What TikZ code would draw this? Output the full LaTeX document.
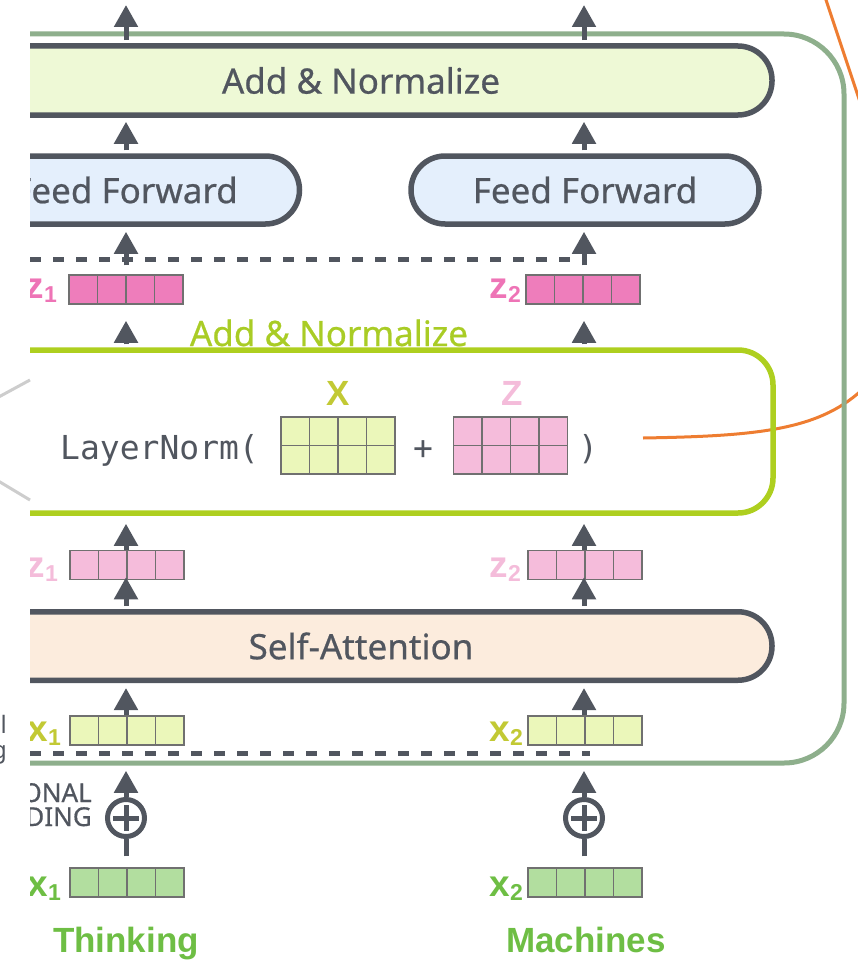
\documentclass[tikz,border=0pt]{standalone}
\usepackage{fontspec}
\setmainfont{Noto Sans}
\newfontfamily\boxfont{Noto Sans}[FakeBold=0.6]
\newfontfamily\labfont{Liberation Sans}
\newfontfamily\codefont{DejaVu Sans Mono}
\usetikzlibrary{arrows.meta}

\definecolor{dg}{HTML}{51565F}
\definecolor{encgreen}{HTML}{8EAF8C}
\definecolor{lime}{HTML}{AECF1F}
\definecolor{limetext}{HTML}{A9CC25}
\definecolor{addfill}{HTML}{EEF9D6}
\definecolor{fffill}{HTML}{E4EFFC}
\definecolor{safill}{HTML}{FCECDD}
\definecolor{pinkdark}{HTML}{EE7DBB}
\definecolor{pinklight}{HTML}{F5BCDB}
\definecolor{xlite}{HTML}{EBF7BA}
\definecolor{xgreen}{HTML}{B2DE9F}
\definecolor{olive}{HTML}{C2C934}
\definecolor{labgreen}{HTML}{6EBE44}
\definecolor{pinklabD}{HTML}{EE74B6}
\definecolor{pinklabL}{HTML}{F4BCDA}
\definecolor{callout}{HTML}{EE7D31}
\definecolor{cellgray}{HTML}{707070}
\definecolor{faint}{HTML}{CDCDCD}

% letter with a lowered index, as in x_1
\newcommand\veclab[2]{{\fontsize{37}{37}\selectfont #1}{\fontsize{23}{23}\selectfont\raisebox{-4pt}{#2}}}

\tikzset{
  block/.style={draw=dg, line width=5.5pt, rounded corners=34pt, inner sep=0pt,
    text=dg, font=\boxfont\fontsize{35}{42}\selectfont},
  arr/.style={draw=dg, line width=5pt, -{Triangle[width=23pt,length=22pt]}},
  link/.style={draw=dg, line width=5pt},
  cellbox/.style={draw=cellgray, line width=1.5pt, minimum width=114pt, inner sep=0pt},
  vec/.style={cellbox, minimum height=29pt,
    path picture={\foreach \k in {1,2,3}{\draw[cellgray,line width=1.5pt]
      ([xshift=\k*28.5pt]path picture bounding box.south west) --
      ([xshift=\k*28.5pt]path picture bounding box.north west);}}},
  mat/.style={cellbox, minimum height=57pt,
    path picture={\foreach \k in {1,2,3}{\draw[cellgray,line width=1.5pt]
      ([xshift=\k*28.5pt]path picture bounding box.south west) --
      ([xshift=\k*28.5pt]path picture bounding box.north west);}
      \draw[cellgray,line width=1.5pt]
      (path picture bounding box.west) -- (path picture bounding box.east);}},
  veclabel/.style={anchor=base east, inner sep=0pt, font=\labfont\bfseries},
  word/.style={anchor=base, inner sep=0pt, text=labgreen,
    font=\labfont\bfseries\fontsize{35}{40}\selectfont},
  dashsep/.style={draw=dg, line width=5pt, dash pattern=on 11pt off 12pt},
  plus/.style={circle, draw=dg, line width=5pt, minimum size=37pt, inner sep=0pt},
  frag/.style={inner sep=0pt, text=dg},
}

\begin{document}
\begin{tikzpicture}[x=1pt,y=-1pt]
\useasboundingbox (0,0) rectangle (858,966);

% neighbouring panel, left edge
\draw[faint, line width=3pt] (-5,399) -- (30,380);
\draw[faint, line width=3pt] (-5,479) -- (30,500);
\node[frag, anchor=base east, font=\fontsize{24}{24}\selectfont] (fragA) at (7,733) {al};
\node[frag, anchor=base east, font=\fontsize{24}{24}\selectfont] (fragB) at (7,758) {g};

% callout curve
\draw[callout, line width=3pt] (824,-6) -- (862,108);
\coordinate (calloutStart) at (643,438);
\coordinate (calloutEnd) at (866,386);
\draw[callout, line width=3pt] (calloutStart) .. controls (760,436) and (822,430) .. (calloutEnd);

\begin{scope}
\clip (30,-10) rectangle (870,980);

% encoder frame
\draw[encgreen, line width=5pt, rounded corners=60pt] (-80,34) rectangle (844,763);

% column axes
\coordinate (c1) at (126,0);
\coordinate (c2) at (584,0);

% blocks
\node[block, fill=addfill, minimum width=822pt, minimum height=69pt] (addtop) at (361,80.5) {Add \& Normalize};
\node[block, fill=fffill, minimum width=348pt, minimum height=68pt] (ffl) at (125.5,190) {Feed Forward};
\node[block, fill=fffill, minimum width=348pt, minimum height=68pt] (ffr) at (585,190) {Feed Forward};
\node[block, fill=safill, minimum width=822pt, minimum height=68.5pt] (sa) at (361,646) {Self-Attention};

% layer norm frame
\node[draw=lime, line width=5.5pt, rounded corners=35pt, minimum width=833pt,
      minimum height=163pt, inner sep=0pt] (lnbox) at (356.5,431.5) {};
\node[anchor=base, inner sep=0pt, text=limetext, font=\boxfont\fontsize{35}{42}\selectfont]
      (lntitle) at (329,346) {Add \& Normalize};

% LayerNorm( X + Z )
\node[anchor=base west, inner sep=0pt, text=dg, font=\codefont\fontsize{33}{33}\selectfont]
      (lnword) at (60,459) {LayerNorm(};
\node[mat, fill=xlite] (Xm) at (338,445.5) {};
\node[anchor=base, inner sep=0pt, text=dg, font=\codefont\fontsize{33}{33}\selectfont]
      (plusop) at (423,459) {+};
\node[mat, fill=pinklight] (Zm) at (510.5,445.5) {};
\node[anchor=base, inner sep=0pt, text=dg, font=\codefont\fontsize{33}{33}\selectfont]
      (rparen) at (588,459) {)};
\node[anchor=base, inner sep=0pt, text=olive, font=\labfont\bfseries\fontsize{35}{35}\selectfont]
      (Xlab) at (338,405) {X};
\node[anchor=base, inner sep=0pt, text=pinklabL, font=\labfont\bfseries\fontsize{35}{35}\selectfont]
      (Zlab) at (512,405) {Z};

% vectors
\node[vec, fill=pinkdark] (z1d) at (126,289.5) {};
\node[vec, fill=pinkdark] (z2d) at (583,289.5) {};
\node[vec, fill=pinklight] (z1l) at (127,565) {};
\node[vec, fill=pinklight] (z2l) at (585,565) {};
\node[vec, fill=xlite] (x1l) at (127,730.5) {};
\node[vec, fill=xlite] (x2l) at (585,730.5) {};
\node[vec, fill=xgreen] (x1g) at (127,882.5) {};
\node[vec, fill=xgreen] (x2g) at (585,882.5) {};

% vector labels
\node[veclabel, text=pinklabD] (z1dl) at (57,298) {\veclab{z}{1}};
\node[veclabel, text=pinklabD] (z2dl) at (521,298) {\veclab{z}{2}};
\node[veclabel, text=pinklabL] (z1ll) at (58,577) {\veclab{z}{1}};
\node[veclabel, text=pinklabL] (z2ll) at (521,577) {\veclab{z}{2}};
\node[veclabel, text=olive] (x1ll) at (61,741) {\veclab{x}{1}};
\node[veclabel, text=olive] (x2ll) at (523,741) {\veclab{x}{2}};
\node[veclabel, text=labgreen] (x1gl) at (61,896) {\veclab{x}{1}};
\node[veclabel, text=labgreen] (x2gl) at (523,896) {\veclab{x}{2}};

% words
\node[word] (w1) at (126,952) {Thinking};
\node[word] (w2) at (586,952) {Machines};

% positional encoding caption
\node[frag, anchor=base east, font=\boxfont\fontsize{26}{26}\selectfont] (peA) at (92,802) {ONAL};
\node[frag, anchor=base east, font=\boxfont\fontsize{26}{26}\selectfont] (peB) at (92,826) {DING};

% separators
\coordinate (sepTopL) at (30,259);
\coordinate (sepTopR) at (587,259);
\coordinate (sepBotL) at (30,753);
\coordinate (sepBotR) at (590,753);
\draw[dashsep] (sepTopL) -- (sepTopR);
\draw[dashsep] (sepBotL) -- (sepBotR);

% positional encoding adders
\node[plus] (p1) at (126,818) {};
\node[plus] (p2) at (584,818) {};
\foreach \p in {p1,p2}{
  \draw[link] ([xshift=-13pt]\p.center) -- ([xshift=13pt]\p.center);
  \draw[link] ([yshift=-13pt]\p.center) -- ([yshift=13pt]\p.center);
}

% outputs leaving the layer
\coordinate (out1) at (126,5);
\coordinate (out2) at (584,5);
\draw[arr, shorten <=3pt] (addtop.north -| c1) -- (out1);
\draw[arr, shorten <=3pt] (addtop.north -| c2) -- (out2);

% feed forward -> add & normalize
\draw[arr, shorten <=3pt, shorten >=4pt] (ffl.north -| c1) -- (addtop.south -| c1);
\draw[arr, shorten <=3pt, shorten >=4pt] (ffr.north -| c2) -- (addtop.south -| c2);

% z -> feed forward
\draw[arr, shorten <=9pt, shorten >=5pt] (z1d.north -| c1) -- (ffl.south -| c1);
\draw[arr, shorten <=9pt, shorten >=5pt] (z2d.north -| c2) -- (ffr.south -| c2);

% layer norm -> z
\draw[arr, shorten <=3pt, shorten >=16pt] (lnbox.north -| c1) -- (z1d.south -| c1);
\draw[arr, shorten <=3pt, shorten >=16pt] (lnbox.north -| c2) -- (z2d.south -| c2);

% z -> layer norm
\draw[arr, shorten >=8pt] (z1l.north -| c1) -- (lnbox.south -| c1);
\draw[arr, shorten >=8pt] (z2l.north -| c2) -- (lnbox.south -| c2);

% self-attention -> z
\draw[arr, shorten <=3pt, shorten >=-3pt] (sa.north -| c1) -- (z1l.south -| c1);
\draw[arr, shorten <=3pt, shorten >=-3pt] (sa.north -| c2) -- (z2l.south -| c2);

% x -> self-attention
\draw[arr, shorten >=5pt] (x1l.north -| c1) -- (sa.south -| c1);
\draw[arr, shorten >=5pt] (x2l.north -| c2) -- (sa.south -| c2);

% adder -> x
\draw[arr, shorten >=25pt] (p1.north) -- (x1l.south -| p1);
\draw[arr, shorten >=25pt] (p2.north) -- (x2l.south -| p2);

% embedding -> adder
\draw[link, shorten <=11pt] (x1g.north -| p1) -- (p1.south);
\draw[link, shorten <=11pt] (x2g.north -| p2) -- (p2.south);
\end{scope}
\end{tikzpicture}
\end{document}
